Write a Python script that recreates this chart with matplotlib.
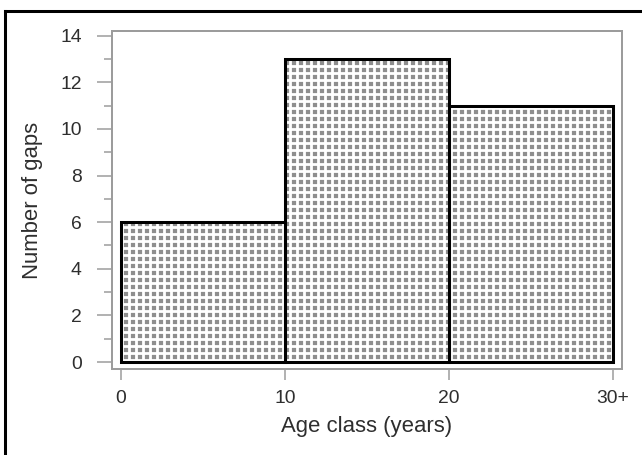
import matplotlib.pyplot as plt
from matplotlib.lines import Line2D
import numpy as np

plt.rcParams['font.family'] = ['Liberation Sans', 'DejaVu Sans']
plt.rcParams['hatch.linewidth'] = 2.4

# gap counts per age class
bin_edges = [0, 10, 20, 30]
gap_counts = [6, 13, 11]
xtick_labels = ['0', '10', '20', '30+']

txt = '#2e2e2e'
frame_col = '#9c9c9c'

DPI = 84
fig = plt.figure(figsize=(642 / DPI, 455 / DPI), dpi=DPI)
ax = fig.add_axes([0.1745, 0.189, 0.7944, 0.7429])

lefts = np.array(bin_edges[:-1])
widths = np.diff(bin_edges)

# stipple: gray fill broken up by a white grid, then black outlines on top
ax.bar(lefts, gap_counts, width=widths, align='edge', color='#8e8e8e',
       edgecolor='white', hatch='++', linewidth=0, zorder=2)
ax.bar(lefts, gap_counts, width=widths, align='edge', fill=False,
       edgecolor='black', linewidth=2.6, zorder=3)

ax.set_xlim(-0.55, 30.55)
ax.set_ylim(-0.3, 14.2)

ax.set_xticks(bin_edges)
ax.set_xticklabels(xtick_labels)
ax.set_yticks(np.arange(0, 15, 2))
ax.set_yticks(np.arange(1, 14, 2), minor=True)

ax.tick_params(axis='y', which='major', length=12.5, width=1.3, color=frame_col,
               labelsize=16.5, labelcolor=txt, pad=13.5)
ax.tick_params(axis='y', which='minor', length=6.5, width=1.3, color=frame_col)
ax.tick_params(axis='x', which='major', length=9, width=1.3, color=frame_col,
               labelsize=16.5, labelcolor=txt, pad=9)

for s in ax.spines.values():
    s.set_color(frame_col)
    s.set_linewidth(1.7)

ax.set_xlabel('Age class (years)', fontsize=19, color=txt, labelpad=8)
ax.set_ylabel('Number of gaps', fontsize=19, color=txt, labelpad=14.5)

# outer frame around the figure (top and left edges)
fig.add_artist(Line2D([5.5 / 642, 5.5 / 642], [0, 1 - 10.5 / 455],
                      transform=fig.transFigure, color='black', lw=2.6))
fig.add_artist(Line2D([5.5 / 642, 1], [1 - 10.5 / 455, 1 - 10.5 / 455],
                      transform=fig.transFigure, color='black', lw=2.6))

fig.savefig('out.png', dpi=DPI)
